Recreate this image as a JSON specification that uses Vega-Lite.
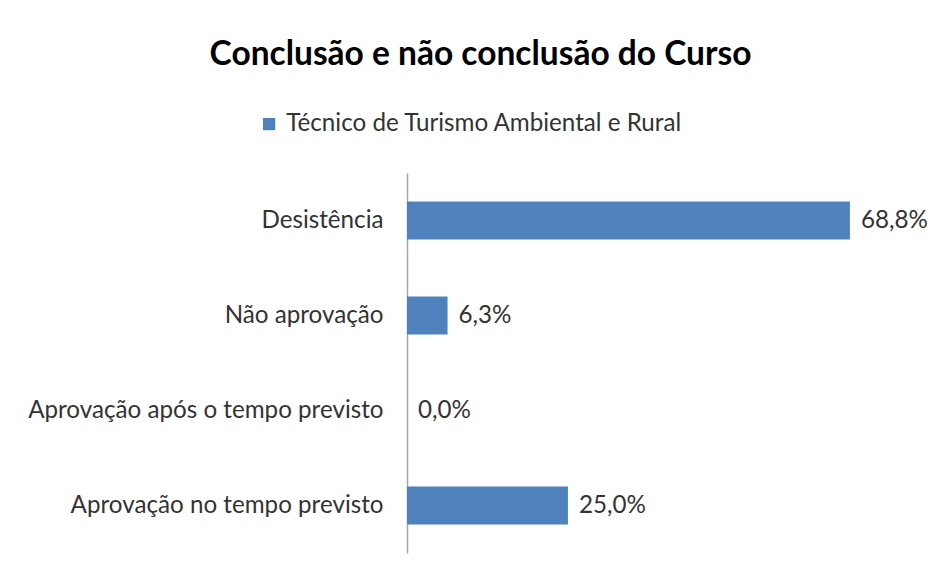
{
  "$schema": "https://vega.github.io/schema/vega-lite/v6.json",
  "width": 515,
  "height": 380,
  "autosize": "none",
  "padding": {"left": 407, "top": 173, "right": 17, "bottom": 19},
  "background": "white",
  "config": {
    "locale": {"number": {"decimal": ",", "thousands": ".", "grouping": [3], "currency": ["", " €"]}},
    "view": {"stroke": null},
    "font": "Lato"
  },
  "title": {
    "text": "Conclusão e não conclusão do Curso",
    "fontSize": 33.5,
    "fontWeight": "bold",
    "font": "Lato",
    "color": "#000000",
    "anchor": "middle",
    "frame": "group",
    "dx": -184,
    "offset": 40
  },
  "data": {
    "values": [
      {"categoria": "Desistência", "valor": 0.688, "curso": "Técnico de Turismo Ambiental e Rural"},
      {"categoria": "Não aprovação", "valor": 0.063, "curso": "Técnico de Turismo Ambiental e Rural"},
      {"categoria": "Aprovação após o tempo previsto", "valor": 0.0, "curso": "Técnico de Turismo Ambiental e Rural"},
      {"categoria": "Aprovação no tempo previsto", "valor": 0.25, "curso": "Técnico de Turismo Ambiental e Rural"}
    ]
  },
  "encoding": {
    "y": {
      "field": "categoria",
      "type": "nominal",
      "sort": ["Desistência", "Não aprovação", "Aprovação após o tempo previsto", "Aprovação no tempo previsto"],
      "scale": {"paddingInner": 0.6, "paddingOuter": 0.3},
      "axis": {
        "title": null,
        "domain": true,
        "domainColor": "#a6a6a6",
        "domainWidth": 1.5,
        "ticks": false,
        "grid": false,
        "labelFontSize": 24.2,
        "labelColor": "#333333",
        "labelPadding": 24,
        "labelLimit": 0,
        "labelFont": "Lato"
      }
    },
    "x": {
      "field": "valor",
      "type": "quantitative",
      "scale": {"domain": [0, 0.8], "nice": false},
      "axis": null
    }
  },
  "layer": [
    {
      "mark": {"type": "bar"},
      "encoding": {
        "color": {
          "field": "curso",
          "type": "nominal",
          "scale": {"range": ["#4F81BD"]},
          "legend": {
            "title": null,
            "orient": "none",
            "legendX": -150,
            "legendY": -61,
            "symbolType": "square",
            "symbolSize": 150,
            "symbolStrokeWidth": 0,
            "labelFontSize": 24.2,
            "labelColor": "#333333",
            "labelFont": "Lato",
            "labelOffset": 5,
            "labelLimit": 0
          }
        }
      }
    },
    {
      "mark": {"type": "text", "align": "left", "baseline": "middle", "dx": 11, "fontSize": 24.2, "color": "#333333", "font": "Lato"},
      "encoding": {
        "text": {"field": "valor", "type": "quantitative", "format": ".1%"}
      }
    }
  ]
}
